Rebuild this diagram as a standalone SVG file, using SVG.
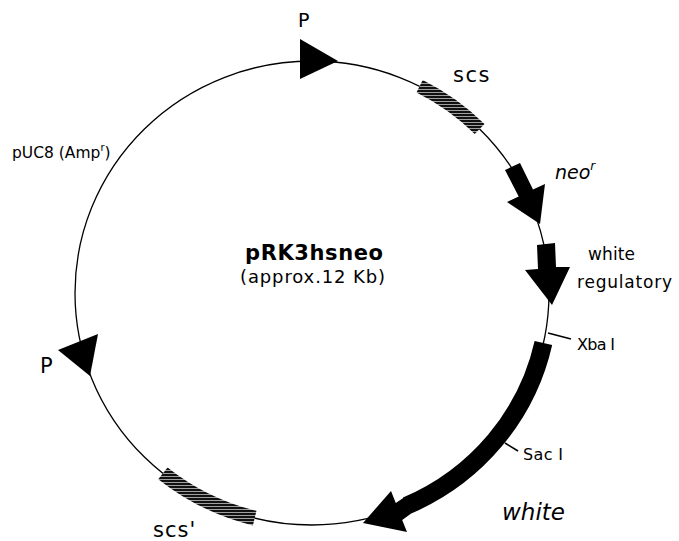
<svg xmlns="http://www.w3.org/2000/svg" width="679" height="541" viewBox="0 0 679 541">
<defs>
<style>
.bb{fill:none;stroke:#000;stroke-width:1.3}
.blk{fill:#000;stroke:none}
.t{font-family:"DejaVu Sans","Liberation Sans",sans-serif;fill:#000}
.it{font-style:italic}
.tick{stroke:#000;stroke-width:1.6;fill:none}
.hatch{fill:none;stroke:url(#hatch)}
</style>
<pattern id="hatch" patternUnits="userSpaceOnUse" width="8" height="3">
<rect width="8" height="3" fill="#fff"/>
<rect width="8" height="2.4" fill="#111"/>
</pattern>
</defs>
<rect width="679" height="541" fill="#fff"/>
<g id="connectors">
<ellipse id="backbone" class="bb" cx="312" cy="293" rx="237" ry="232"/>
<line class="tick" x1="548" y1="333" x2="571" y2="339"/>
<line class="tick" x1="505" y1="443" x2="518" y2="451"/>
</g>
<g id="promoter-top">
<polygon class="blk" points="300,39 300,79 338,61"/>
<text class="t" x="298" y="27" font-size="19">P</text>
</g>
<g id="scs">
<path class="hatch" stroke-width="14" d="M 419.6 86.3 A 237 232 0 0 1 479.6 129"/>
<text class="t" x="453" y="82" font-size="21" letter-spacing="1.5">scs</text>
</g>
<g id="neo">
<polygon class="blk" points="505,170 520,163 533,189.6 545,184 540,224 507,202 518.7,196.6"/>
<text class="t it" x="555" y="179" font-size="19">neo<tspan font-size="12" dy="-9">r</tspan></text>
</g>
<g id="white-regulatory">
<polygon class="blk" points="537,245 555,243 556,267 570,267 552,305 525,270 538,269"/>
<text class="t" x="588" y="260" font-size="17" textLength="47">white</text>
<text class="t" x="577" y="288" font-size="17" textLength="95">regulatory</text>
</g>
<g id="xba">
<text class="t" x="577" y="350" font-size="16" textLength="38">Xba I</text>
</g>
<g id="white">
<path fill="none" stroke="#000" stroke-width="18" d="M 543.4 343 A 237 232 0 0 1 406.5 505.8"/>
<polygon class="blk" points="363,523 391,491 395.8,503.1 404,497.5 410.5,514 402.2,519.9 407,532"/>
<text class="t it" x="502" y="520" font-size="23" textLength="63">white</text>
</g>
<g id="sac">
<text class="t" x="523" y="460" font-size="16" textLength="40">Sac I</text>
</g>
<g id="scs-prime">
<path class="hatch" stroke-width="15" d="M 254.7 518.1 A 237 232 0 0 1 162.9 473.3"/>
<text class="t" x="153" y="537" font-size="21" letter-spacing="1">scs'</text>
</g>
<g id="promoter-bottom">
<polygon class="blk" points="58,350 98,334 90,376"/>
<text class="t" x="40" y="373" font-size="21">P</text>
</g>
<g id="puc8">
<text class="t" x="12" y="158" font-size="15.5">pUC8 (Amp<tspan font-size="10" dy="-7">r</tspan><tspan dy="7">)</tspan></text>
</g>
<g id="title">
<text class="t" x="245" y="260" font-size="21" font-weight="bold" textLength="138">pRK3hsneo</text>
<text class="t" x="240" y="283" font-size="18" textLength="145">(approx.12 Kb)</text>
</g>
</svg>
